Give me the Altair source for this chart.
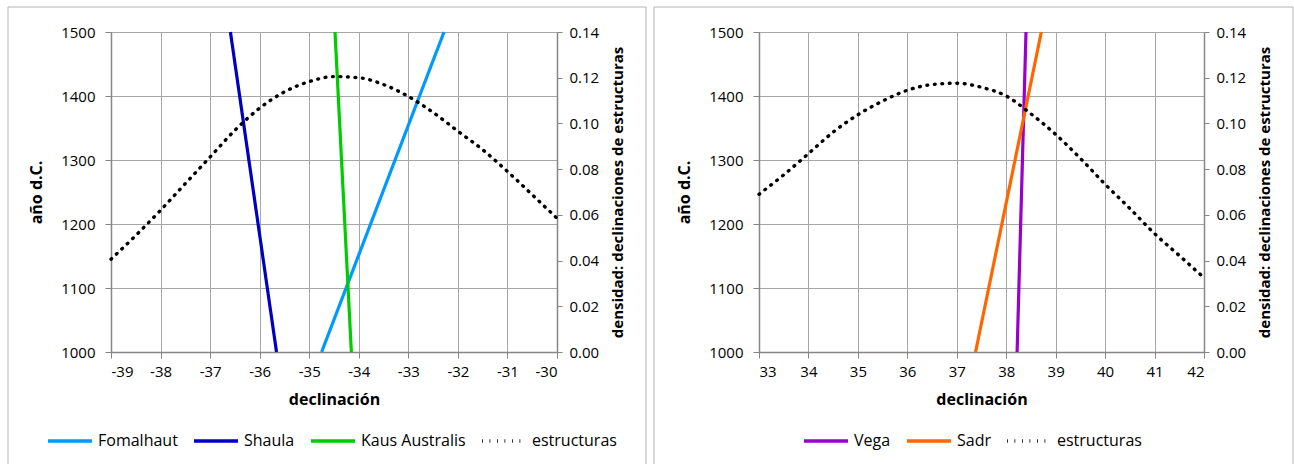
import altair as alt
import pandas as pd

# ---------------- data ----------------
YEARS = [1000, 1500]
YEAR_TICKS = [1000, 1100, 1200, 1300, 1400, 1500]
DENS_TICKS = [0.0, 0.02, 0.04, 0.06, 0.08, 0.10, 0.12, 0.14]

# left panel (southern stars)
L_STARS = ["Fomalhaut", "Shaula", "Kaus Australis"]
L_COLORS = ["#0099FF", "#0000C0", "#00CC00"]
L_DEC_1000 = [-34.75, -35.66, -34.15]
L_DEC_1500 = [-32.28, -36.59, -34.48]
L_DENS_X = [-39, -38.5, -38, -37.5, -37, -36.5, -36, -35.5, -35, -34.5,
            -34, -33.5, -33, -32.5, -32, -31.5, -31, -30.5, -30]
L_DENS_Y = [0.0406, 0.0510, 0.0620, 0.0737, 0.0853, 0.0970, 0.1067, 0.1138, 0.1183, 0.1205,
            0.1200, 0.1170, 0.1118, 0.1048, 0.0966, 0.0885, 0.0790, 0.0688, 0.0585]
L_XTICKS = [-39, -38, -37, -36, -35, -34, -33, -32, -31, -30]

# right panel (northern stars)
R_STARS = ["Vega", "Sadr"]
R_COLORS = ["#9900CC", "#FF6600"]
R_DEC_1000 = [38.22, 37.38]
R_DEC_1500 = [38.40, 38.71]
R_DENS_X = [33, 33.5, 34, 34.5, 35, 35.5, 36, 36.5, 37, 37.5,
            38, 38.5, 39, 39.5, 40, 40.5, 41, 41.5, 42]
R_DENS_Y = [0.0690, 0.0775, 0.0868, 0.0962, 0.1038, 0.1098, 0.1145, 0.1170, 0.1176, 0.1158,
            0.1120, 0.1042, 0.0952, 0.0847, 0.0734, 0.0628, 0.0518, 0.0422, 0.0325]
R_XTICKS = [33, 34, 35, 36, 37, 38, 39, 40, 41, 42]

DENS_NAME = "estructuras"
FONT = "Open Sans"
H = 320


def panel(stars, colors, d1000, d1500, dens_x, dens_y, xticks, width,
          legend_x, frame_l, frame_r):
    rows = []
    for s, a, b in zip(stars, d1000, d1500):
        rows.append({"series": s, "dec": a, "year": YEARS[0]})
        rows.append({"series": s, "dec": b, "year": YEARS[1]})
    star_df = pd.DataFrame(rows)
    dens_df = pd.DataFrame({"series": DENS_NAME, "dec": dens_x, "dens": dens_y})

    domain = stars + [DENS_NAME]
    crange = colors + ["#000000"]
    drange = [[1, 0]] * len(stars) + [[0.8, 6.7]]

    leg = dict(orient="none", legendX=legend_x, legendY=385, direction="horizontal",
               title=None, symbolType="stroke", symbolSize=1936, symbolStrokeWidth=3.5,
               labelFont=FONT, labelFontSize=16, labelColor="#000000",
               columnPadding=9, labelOffset=4)

    x = alt.X("dec:Q",
              scale=alt.Scale(domain=[xticks[0], xticks[-1]], nice=False, zero=False),
              axis=alt.Axis(values=xticks, title="declinación", grid=True,
                            labelExpr="'' + datum.value", tickSize=6, labelPadding=6,
                            titlePadding=12))
    color = alt.Color("series:N", scale=alt.Scale(domain=domain, range=crange),
                      legend=alt.Legend(**leg))
    dash = alt.StrokeDash("series:N", scale=alt.Scale(domain=domain, range=drange),
                          legend=alt.Legend(**leg))

    frame = alt.Chart(pd.DataFrame({"k": [0]})).mark_rect(
        fillOpacity=0, stroke="#B3B3B3", strokeWidth=1
    ).encode(x=alt.value(frame_l), x2=alt.value(frame_r),
             y=alt.value(-25), y2=alt.value(440))

    star_layer = alt.Chart(star_df).mark_line(strokeWidth=3.2).encode(
        x=x,
        y=alt.Y("year:Q", scale=alt.Scale(domain=[1000, 1500], nice=False, zero=False),
                axis=alt.Axis(values=YEAR_TICKS, format="d", title="año d.C.", orient="left",
                              grid=True, tickSize=6, labelPadding=10, titlePadding=16)),
        color=color, strokeDash=dash,
    )

    dens_layer = alt.Chart(dens_df).mark_line(
        strokeWidth=3.4, strokeCap="round", interpolate="monotone"
    ).encode(
        x=x,
        y=alt.Y("dens:Q", scale=alt.Scale(domain=[0, 0.14], nice=False, zero=True),
                axis=alt.Axis(values=DENS_TICKS, format=".2f", orient="right", grid=False,
                              title="densidad: declinaciones de estructuras",
                              titleAngle=270, titleBaseline="top", tickSize=5,
                              labelPadding=7, titlePadding=12, titleFontSize=15)),
        color=color, strokeDash=dash,
    )

    return alt.layer(frame, star_layer, dens_layer).resolve_scale(
        y="independent"
    ).properties(width=width, height=H)


left = panel(L_STARS, L_COLORS, L_DEC_1000, L_DEC_1500, L_DENS_X, L_DENS_Y,
             L_XTICKS, 446, -65, -103, 535)
right = panel(R_STARS, R_COLORS, R_DEC_1000, R_DEC_1500, R_DENS_X, R_DENS_Y,
              R_XTICKS, 445, 43, -105, 534)

chart = alt.hconcat(left, right, spacing=6).resolve_scale(
    color="independent", strokeDash="independent"
).resolve_legend(
    color="independent", strokeDash="independent"
).properties(
    padding={"left": 7, "top": 6, "right": 0, "bottom": 0},
    background="white",
).configure_view(stroke=None).configure_axis(
    labelFont=FONT, titleFont=FONT, labelFontSize=15, titleFontSize=16,
    labelColor="#000000", titleColor="#000000", titleFontWeight="bold",
    domainColor="#868686", tickColor="#868686", gridColor="#A6A6A6",
    domainWidth=1.5, gridWidth=1, tickWidth=1
)

chart.save("out.html", embed_options={"renderer": "svg", "actions": False})
